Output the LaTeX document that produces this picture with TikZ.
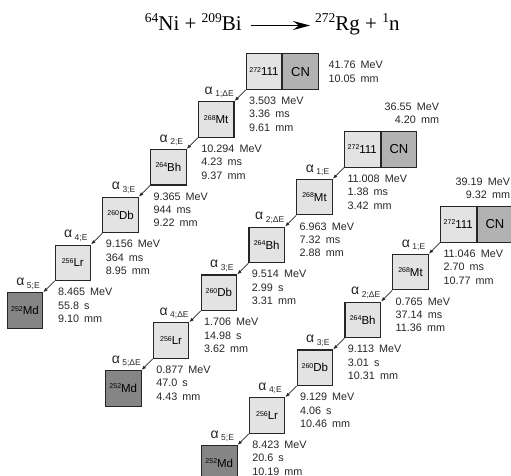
\documentclass[tikz,border=0pt]{standalone}
\usepackage{fontspec}
\setmainfont{Liberation Serif}
\newfontfamily\chartfont{Liberation Sans}[WordSpace=1.7]
\usetikzlibrary{positioning,arrows.meta}
\newcommand\up[1]{\raisebox{0.42em}{\fontsize{13.5}{13.5}\selectfont#1}}
\newcommand\nucl[2]{\raisebox{3.5pt}{\fontsize{7}{7}\selectfont#1}#2}
\newcommand\alp[2]{{\fontsize{14}{14}\selectfont α}\hspace{2.5pt}\raisebox{-2.5pt}{\fontsize{8.5}{8.5}\selectfont#1;#2}}
\tikzset{nuc/.style={rectangle,draw=black!85,line width=1.1pt,fill=black!11,
minimum size=35.5pt,inner sep=0pt,font=\chartfont\fontsize{11.5}{12}\selectfont},
cn/.style={nuc,fill=black!30,font=\chartfont\fontsize{13}{13}\selectfont},
md/.style={nuc,fill=black!48},
dstep/.style={below left=11.2pt and 11.2pt of #1},
val/.style={inner sep=0pt,align=left,text=black!85,
font=\chartfont\fontsize{10.8}{13.4}\selectfont},
valat/.style={val,right=14.5pt of #1.north east,anchor=north west,yshift=4.3pt},
alab/.style={inner sep=0pt,text=black!85,font=\chartfont},
decay/.style={draw=black!85,line width=0.8pt,-{Latex[length=4.5pt,width=3.5pt]}},
title/.style={inner sep=0pt,text height=15pt,text depth=4pt,font=\fontsize{21}{24}\selectfont},
react/.style={line width=1.6pt,shorten <=8.7pt,shorten >=5pt,
-{Stealth[length=17pt,width=9pt,inset=6pt]}}}
\begin{document}
\begin{tikzpicture}[x=1pt,y=-1pt]
  \useasboundingbox (0,0) rectangle (511,476);
  % reaction
  \node (tl) [title,anchor=base east] at (242,31) {\up{64}Ni + \up{209}Bi};
  \node (tr) [title,anchor=base west] at (315,31) {\up{272}Rg + \up{1}n};
  \draw [react] (tl.east) -- (tr.west);
  % first chain
  \node (a0) [nuc,anchor=north west] at (245.7,53.3) {\nucl{272}{111}};
  \node (a0n) [cn,right=0pt of a0] {CN};
  \node (a1) [nuc,dstep=a0] {\nucl{268}{Mt}};
  \node (a2) [nuc,dstep=a1] {\nucl{264}{Bh}};
  \node (a3) [nuc,dstep=a2] {\nucl{260}{Db}};
  \node (a4) [nuc,dstep=a3] {\nucl{256}{Lr}};
  \node (a5) [md,dstep=a4] {\nucl{252}{Md}};
  \node (va0) [val,right=9.5pt of a0n] {41.76 MeV\\10.05 mm};
  \node (va1) [valat=a1] {3.503 MeV\\3.36 ms\\9.61 mm};
  \node (va2) [valat=a2] {10.294 MeV\\4.23 ms\\9.37 mm};
  \node (va3) [valat=a3] {9.365 MeV\\944 ms\\9.22 mm};
  \node (va4) [valat=a4] {9.156 MeV\\364 ms\\8.95 mm};
  \node (va5) [valat=a5] {8.465 MeV\\55.8 s\\9.10 mm};
  \node (la1) [alab,above=3pt of a1.north,xshift=3pt] {\alp{1}{ΔE}};
  \node (la2) [alab,above=3pt of a2.north,xshift=3pt] {\alp{2}{E}};
  \node (la3) [alab,above=3pt of a3.north,xshift=3pt] {\alp{3}{E}};
  \node (la4) [alab,above=3pt of a4.north,xshift=3pt] {\alp{4}{E}};
  \node (la5) [alab,above=3pt of a5.north,xshift=3pt] {\alp{5}{E}};
  % second chain
  \node (b0) [nuc,anchor=north west] at (344,131) {\nucl{272}{111}};
  \node (b0n) [cn,right=0pt of b0] {CN};
  \node (b1) [nuc,dstep=b0] {\nucl{268}{Mt}};
  \node (b2) [nuc,dstep=b1] {\nucl{264}{Bh}};
  \node (b3) [nuc,dstep=b2] {\nucl{260}{Db}};
  \node (b4) [nuc,dstep=b3] {\nucl{256}{Lr}};
  \node (b5) [md,dstep=b4] {\nucl{252}{Md}};
  \node (vb0) [val,align=right,above=7pt of b0n.north east,anchor=south east,xshift=22pt] {36.55 MeV\\4.20 mm};
  \node (vb1) [valat=b1] {11.008 MeV\\1.38 ms\\3.42 mm};
  \node (vb2) [valat=b2] {6.963 MeV\\7.32 ms\\2.88 mm};
  \node (vb3) [valat=b3] {9.514 MeV\\2.99 s\\3.31 mm};
  \node (vb4) [valat=b4] {1.706 MeV\\14.98 s\\3.62 mm};
  \node (vb5) [valat=b5] {0.877 MeV\\47.0 s\\4.43 mm};
  \node (lb1) [alab,above=3pt of b1.north,xshift=3pt] {\alp{1}{E}};
  \node (lb2) [alab,above=3pt of b2.north,xshift=3pt] {\alp{2}{ΔE}};
  \node (lb3) [alab,above=3pt of b3.north,xshift=3pt] {\alp{3}{E}};
  \node (lb4) [alab,above=3pt of b4.north,xshift=3pt] {\alp{4}{ΔE}};
  \node (lb5) [alab,above=3pt of b5.north,xshift=3pt] {\alp{5}{ΔE}};
  % third chain
  \node (c0) [nuc,anchor=north west] at (440,206) {\nucl{272}{111}};
  \node (c0n) [cn,right=0pt of c0] {CN};
  \node (c1) [nuc,dstep=c0] {\nucl{268}{Mt}};
  \node (c2) [nuc,dstep=c1] {\nucl{264}{Bh}};
  \node (c3) [nuc,dstep=c2] {\nucl{260}{Db}};
  \node (c4) [nuc,dstep=c3] {\nucl{256}{Lr}};
  \node (c5) [md,dstep=c4] {\nucl{252}{Md}};
  \node (vc0) [val,align=right,above=7pt of c0n.north east,anchor=south east,xshift=-3pt] {39.19 MeV\\9.32 mm};
  \node (vc1) [valat=c1] {11.046 MeV\\2.70 ms\\10.77 mm};
  \node (vc2) [valat=c2] {0.765 MeV\\37.14 ms\\11.36 mm};
  \node (vc3) [valat=c3] {9.113 MeV\\3.01 s\\10.31 mm};
  \node (vc4) [valat=c4] {9.129 MeV\\4.06 s\\10.46 mm};
  \node (vc5) [valat=c5] {8.423 MeV\\20.6 s\\10.19 mm};
  \node (lc1) [alab,above=3pt of c1.north,xshift=3pt] {\alp{1}{E}};
  \node (lc2) [alab,above=3pt of c2.north,xshift=3pt] {\alp{2}{ΔE}};
  \node (lc3) [alab,above=3pt of c3.north,xshift=3pt] {\alp{3}{E}};
  \node (lc4) [alab,above=3pt of c4.north,xshift=3pt] {\alp{4}{E}};
  \node (lc5) [alab,above=3pt of c5.north,xshift=3pt] {\alp{5}{E}};
  % decay arrows
  \foreach \c in {a,b,c}
    \foreach \i/\j in {0/1,1/2,2/3,3/4,4/5}
      \draw [decay] (\c\i.south west) -- (\c\j.north east);
\end{tikzpicture}
\end{document}
